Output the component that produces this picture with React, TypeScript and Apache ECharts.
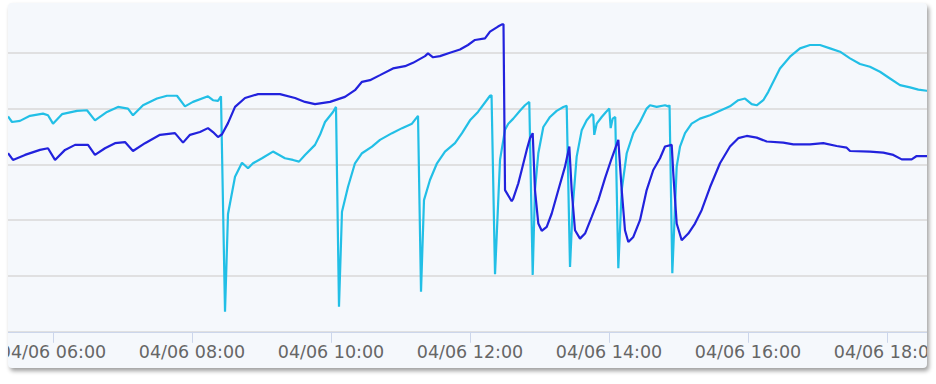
import React, { useEffect, useRef } from "react";
import * as echarts from "echarts";

// x = hour of day on 04/06 (decimal), y = value
const cyanData: [number, number][] = [
  [5.353, 38.6], [5.41, 37.6], [5.525, 37.8], [5.669, 38.7], [5.856, 39.1], [5.928, 38.8],
  [6.0, 37.3], [6.129, 39.0], [6.345, 39.6], [6.489, 39.7], [6.604, 37.9], [6.777, 39.4],
  [6.935, 40.3], [7.079, 40.0], [7.151, 38.8], [7.295, 40.6], [7.496, 41.8], [7.64, 42.3],
  [7.784, 42.3], [7.899, 40.4], [8.014, 41.2], [8.23, 42.2], [8.302, 41.5], [8.374, 41.4],
  [8.417, 42.2], [8.475, 3.6], [8.518, 21.1], [8.619, 27.8], [8.719, 30.3], [8.806, 29.3],
  [8.878, 30.2], [9.007, 31.1], [9.165, 32.3], [9.338, 31.1], [9.453, 30.8], [9.54, 30.5],
  [9.626, 31.7], [9.77, 33.5], [9.842, 35.3], [9.914, 37.6], [10.029, 39.4], [10.072, 40.3],
  [10.115, 4.5], [10.158, 21.5], [10.245, 26.0], [10.345, 30.2], [10.446, 32.0], [10.59, 33.2],
  [10.705, 34.4], [10.878, 35.6], [11.022, 36.5], [11.165, 37.3], [11.252, 38.7], [11.295, 7.2],
  [11.338, 23.6], [11.424, 27.2], [11.525, 30.2], [11.64, 32.3], [11.784, 33.8], [11.885, 35.6],
  [12.0, 37.9], [12.115, 39.4], [12.288, 42.3], [12.31, 42.4], [12.36, 10.3], [12.432, 30.8],
  [12.504, 36.2], [12.551, 37.3], [12.623, 38.2], [12.719, 39.6], [12.791, 40.6], [12.853, 41.2],
  [12.902, 10.2], [12.935, 25.4], [12.983, 32.0], [13.055, 36.7], [13.151, 38.5], [13.247, 39.6],
  [13.343, 40.3], [13.391, 40.5], [13.439, 11.6], [13.478, 22.4], [13.535, 31.4], [13.607, 36.1],
  [13.679, 37.9], [13.751, 39.0], [13.774, 38.8], [13.788, 35.3], [13.823, 37.3], [13.895, 38.5],
  [13.957, 39.4], [14.004, 40.0], [14.024, 36.5], [14.053, 38.2], [14.09, 38.5], [14.134, 11.4],
  [14.183, 25.4], [14.255, 32.0], [14.35, 35.6], [14.446, 37.6], [14.542, 40.0], [14.59, 40.6],
  [14.686, 40.3], [14.806, 40.6], [14.853, 40.4], [14.871, 40.6], [14.911, 10.5], [14.974, 29.6],
  [15.022, 33.2], [15.094, 35.6], [15.189, 37.3], [15.309, 38.2], [15.453, 38.8], [15.597, 39.6],
  [15.741, 40.4], [15.86, 41.5], [15.957, 41.8], [16.053, 40.8], [16.125, 40.6], [16.22, 41.5],
  [16.292, 43.0], [16.364, 44.8], [16.46, 47.2], [16.604, 49.3], [16.748, 50.8], [16.892, 51.4],
  [17.036, 51.4], [17.18, 50.8], [17.324, 50.2], [17.468, 49.0], [17.612, 48.0], [17.755, 47.5],
  [17.899, 46.6], [18.043, 45.4], [18.187, 44.2], [18.331, 43.8], [18.451, 43.4], [18.571, 43.2],
  [18.69, 43.1],
];

const blueData: [number, number][] = [
  [5.353, 32.0], [5.424, 30.8], [5.597, 31.7], [5.813, 32.6], [5.928, 32.9], [6.029, 30.8],
  [6.173, 32.6], [6.317, 33.5], [6.504, 33.5], [6.604, 31.7], [6.748, 32.9], [6.892, 33.8],
  [7.036, 34.0], [7.151, 32.4], [7.324, 33.8], [7.54, 35.3], [7.755, 35.6], [7.871, 33.9],
  [7.971, 35.3], [8.115, 35.8], [8.23, 36.5], [8.302, 35.8], [8.374, 34.9], [8.432, 35.4],
  [8.518, 37.4], [8.619, 40.3], [8.763, 41.9], [8.95, 42.6], [9.266, 42.6], [9.482, 41.9],
  [9.626, 41.2], [9.77, 40.8], [9.986, 41.2], [10.201, 42.1], [10.345, 43.3], [10.446, 44.8],
  [10.561, 45.1], [10.705, 46.0], [10.892, 47.2], [11.065, 47.6], [11.18, 48.2], [11.353, 49.4],
  [11.396, 49.9], [11.468, 49.2], [11.568, 49.4], [11.712, 50.0], [11.856, 50.6], [11.971, 51.4],
  [12.072, 52.3], [12.216, 52.6], [12.288, 53.8], [12.403, 54.7], [12.46, 55.1], [12.482, 55.1],
  [12.504, 25.4], [12.6, 23.4], [12.623, 23.9], [12.695, 26.6], [12.744, 29.0], [12.816, 32.6],
  [12.863, 34.7], [12.902, 35.6], [12.935, 25.4], [12.983, 19.4], [13.032, 18.1], [13.104, 18.8],
  [13.176, 21.2], [13.271, 25.4], [13.367, 29.6], [13.429, 33.2], [13.463, 25.4], [13.511, 18.2],
  [13.583, 16.7], [13.655, 17.6], [13.751, 20.6], [13.846, 23.6], [13.942, 27.5], [14.039, 31.1],
  [14.134, 34.4], [14.183, 25.4], [14.23, 18.2], [14.278, 16.1], [14.35, 17.0], [14.446, 20.0],
  [14.542, 25.4], [14.637, 29.0], [14.734, 31.1], [14.806, 33.2], [14.902, 33.5], [14.925, 28.4],
  [14.974, 19.4], [15.046, 16.4], [15.141, 17.6], [15.237, 19.4], [15.333, 21.8], [15.453, 25.9],
  [15.597, 30.2], [15.741, 33.2], [15.86, 34.7], [15.981, 35.1], [16.125, 34.8], [16.269, 34.1],
  [16.508, 33.9], [16.652, 33.6], [16.892, 33.6], [17.083, 33.8], [17.276, 33.3], [17.42, 33.0],
  [17.468, 32.4], [17.755, 32.3], [17.947, 32.1], [18.091, 31.7], [18.212, 30.9], [18.355, 30.9],
  [18.427, 31.5], [18.571, 31.5], [18.69, 31.5],
];

const xMin = 4;
const xMax = 20;
const xStep = 2;
const yMin = 0;
const yMax = 60;
const yStep = 10;
const datePrefix = "04/06";

function pad(n: number) {
  return (n < 10 ? "0" : "") + n;
}

export default function App() {
  const ref = useRef<HTMLDivElement>(null);
  useEffect(() => {
    if (!ref.current) return;
    const chart = echarts.init(ref.current, undefined, { renderer: "svg" });
    chart.setOption({
      animation: false,
      backgroundColor: "transparent",
      grid: {
        left: 0,
        right: 0,
        top: 20,
        bottom: 40.2,
        containLabel: false,
        outerBoundsMode: "none",
      },
      xAxis: {
        type: "value",
        min: xMin,
        max: xMax,
        interval: xStep,
        axisLine: { show: true, lineStyle: { color: "#ccd6eb", width: 1 } },
        axisTick: { show: true, length: 11, lineStyle: { color: "#ccd6eb", width: 1 } },
        splitLine: { show: false },
        axisLabel: {
          margin: 11,
          color: "#666666",
          fontFamily: "DejaVu Sans",
          fontSize: 17.5,
          formatter: (v: number) => `${datePrefix} ${pad(v)}:00`,
        },
      },
      yAxis: {
        type: "value",
        min: yMin,
        max: yMax,
        interval: yStep,
        axisLine: { show: false },
        axisTick: { show: false },
        axisLabel: { show: false },
        splitLine: { show: true, lineStyle: { color: "#d9d9d9", width: 1.5 } },
      },
      series: [
        {
          name: "Series 1",
          type: "line",
          data: cyanData,
          showSymbol: false,
          symbol: "none",
          lineStyle: { color: "#22bfe6", width: 2.2 },
          itemStyle: { color: "#22bfe6" },
        },
        {
          name: "Series 2",
          type: "line",
          data: blueData,
          showSymbol: false,
          symbol: "none",
          lineStyle: { color: "#2222dd", width: 2.2 },
          itemStyle: { color: "#2222dd" },
          z: 3,
        },
      ],
    });
    return () => chart.dispose();
  }, []);

  return (
    <div
      style={{
        position: "absolute",
        left: 8,
        top: 3,
        width: 919,
        height: 365,
        overflow: "hidden",
        borderRadius: 4,
        background: "#f5f8fc",
        boxShadow: "2px 3px 4px rgba(0,0,0,0.38)",
      }}
    >
      <div
        ref={ref}
        style={{ position: "absolute", left: -94, top: -26, width: 1112, height: 395 }}
      />
    </div>
  );
}
